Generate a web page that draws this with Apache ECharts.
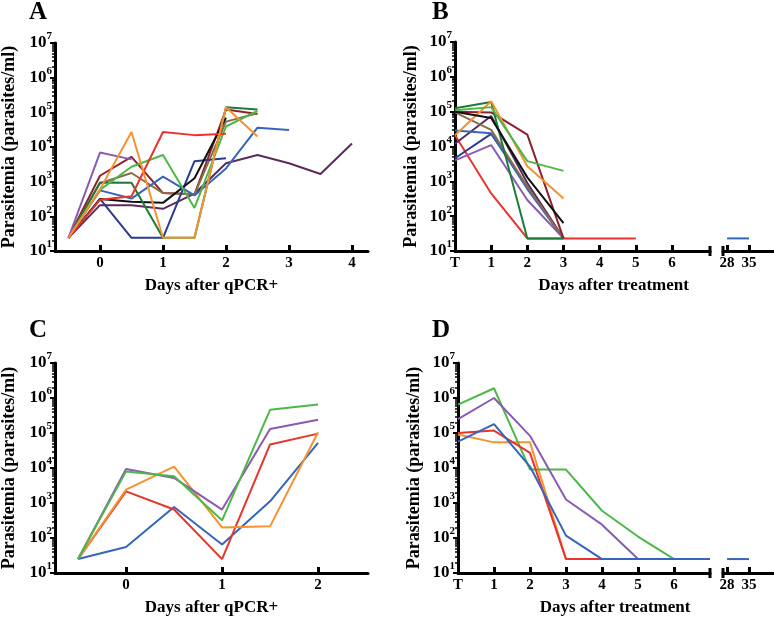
<!DOCTYPE html>
<html>
<head>
<meta charset="utf-8">
<script src="https://cdn.jsdelivr.net/npm/echarts@6/dist/echarts.min.js"></script>
<style>html,body{margin:0;padding:0;background:#fff}#c{width:774px;height:620px}</style>
</head>
<body>
<div id="c"></div>
<script>
// ---------- Data ----------
const majorTicks = [10, 100, 1000, 10000, 100000, 1000000, 10000000];
const tickDaysA = [0, 1, 2, 3, 4];
const tickDaysC = [0, 1, 2];
const tickDaysBD = [0, 1, 2, 3, 4, 5, 6];
const tickDaysLate = [28, 35];

// Panel A
const daysA = [-0.5, 0, 0.5, 1, 1.5, 2, 2.5, 3, 3.5, 4];
const redA        = [24, 300, 380, 27000, 22000, 24000];
const orangeA     = [24, 600, 27000, 24, 24, 140000, 20000];
const purpleA     = [24, 6900, 4400];
const maroonA     = [24, 1480, 5200, 470, 430, 120000, 90000];
const oliveA      = [24, 900, 1780, 470, 430, 54000, 94000];
const darkGreenA  = [24, 950, 930, 24, 24, 140000, 120000];
const greenA      = [24, 580, 2700, 5900, 175, 39000, 110000];
const blueA       = [24, 560, 325, 1400, 400, 2400, 36000, 31000];
const navyA       = [24, 320, 24, 24, 3900, 4700];
const blackA      = [24, 316, 265, 245, 1260, 70000];
const darkPurpleA = [24, 210, 210, 165, 450, 3400, 5900, 3400, 1660, 12600];

// Panel B
const daysB = [0, 1, 2, 3, 4, 5];
const darkGreenB  = [126000, 190000, 23, 23];
const greenB      = [110000, 135000, 3800, 2000];
const orangeB     = [21000, 200000, 2700, 320];
const maroonB     = [100000, 95000, 22000, 23];
const blackB      = [100000, 66000, 1300, 63];
const oliveB      = [95000, 30000, 700, 23];
const blueB       = [29000, 24000, 600, 23];
const navyB       = [4600, 23000, 700, 23];
const purpleB     = [4000, 11000, 290, 23];
const darkPurpleB = [12000, 75000, 900, 23];
const redB        = [21000, 450, 23, 23, 23, 23];
const daysLateB = [28, 35];
const blueLateB = [23, 23];

// Panel C
const daysC = [-0.5, 0, 0.5, 1, 1.5, 2];
const greenC  = [25, 8000, 5800, 320, 460000, 650000];
const purpleC = [25, 9400, 5200, 650, 130000, 240000];
const orangeC = [25, 2400, 11000, 200, 215, 105000];
const redC    = [25, 2150, 650, 25, 47000, 96000];
const blueC   = [25, 55, 770, 65, 1120, 52000];

// Panel D
const daysD = [0, 1, 2, 3, 4, 5, 6, 7];
const greenD  = [650000, 1900000, 9000, 9000, 600, 110, 25, 25];
const purpleD = [250000, 1000000, 83000, 1260, 240, 25];
const orangeD = [90000, 54000, 54000, 25];
const redD    = [100000, 117000, 27000, 25, 25];
const blueD   = [57000, 180000, 11000, 117, 25, 25, 25, 25];
const daysLateD = [28, 35];
const blueLateD = [25, 25];

// ---------- Styling ----------
const FONT = '"Liberation Serif", "Times New Roman", serif';
const C = {
  red: '#e8342c', orange: '#f5922f', purple: '#8a5ab4', maroon: '#8c2230',
  olive: '#8b6d45', darkGreen: '#1f7a3a', green: '#4db848', blue: '#3565bd',
  navy: '#2d3a8e', black: '#111111', darkPurple: '#5c2b5d'
};

const minorTicks = [];
for (let e = 1; e < 7; e++) for (let m = 2; m <= 9; m++) minorTicks.push(m * Math.pow(10, e));

// layout
const L = {
  A: {left: 55, top: 43, width: 313, height: 208, xmin: -0.714, xmax: 4.254},
  B: {left: 455, top: 42, width: 255, height: 209, xmin: 0, xmax: 7.05},
  B2: {left: 723, top: 42, width: 51, height: 209, xmin: 26.7, xmax: 43},
  C: {left: 55, top: 363, width: 313, height: 210, xmin: -0.74, xmax: 2.52},
  D: {left: 458, top: 363, width: 252, height: 210, xmin: 0, xmax: 7.0},
  D2: {left: 723, top: 363, width: 51, height: 210, xmin: 26.7, xmax: 43}
};

function pairs(days, vals) {
  const out = [];
  vals.forEach((v, i) => { if (v != null) out.push([days[i], v]); });
  return out;
}

const grids = [];
const xAxes = [];
const yAxes = [];
const series = [];

const labelStyle = {fontFamily: FONT, fontWeight: 'bold', fontSize: 15, color: '#000'};

function addPanel(key, opts) {
  const g = L[key];
  const gi = grids.length;
  grids.push({left: g.left, top: g.top, width: g.width, height: g.height, containLabel: false, outerBoundsMode: 'none'});
  const xa = {
    type: 'value', gridIndex: gi, min: g.xmin, max: g.xmax,
    axisLine: {show: true, onZero: false, lineStyle: {color: '#000', width: 3}},
    axisTick: {show: true, inside: true, length: 6, lineStyle: {color: '#000', width: 3}, customValues: opts.ticks},
    axisLabel: Object.assign({customValues: opts.labels || opts.ticks, margin: 5, hideOverlap: false,
      formatter: opts.xfmt || (v => String(v))}, labelStyle),
    splitLine: {show: false}
  };
  if (opts.xname) {
    xa.name = opts.xname; xa.nameLocation = 'middle'; xa.nameGap = opts.xnameGap || 25;
    xa.nameTextStyle = {fontFamily: FONT, fontWeight: 'bold', fontSize: 17, color: '#000', padding: opts.xnamePad || 0};
  }
  xAxes.push(xa);
  const xi = xAxes.length - 1;
  const yi = yAxes.length;
  if (opts.showY) {
    yAxes.push({
      type: 'log', logBase: 10, gridIndex: gi, min: 10, max: 1e7, position: 'left',
      axisLine: {show: true, onZero: false, lineStyle: {color: '#000', width: 3}},
      axisTick: {show: true, inside: false, length: 5, lineStyle: {color: '#000', width: 2}, customValues: majorTicks},
      axisLabel: {customValues: majorTicks, margin: 3, hideOverlap: false,
        formatter: v => '{a|10}{b|' + Math.round(Math.log10(v)) + '}',
        rich: {
          a: {fontFamily: FONT, fontWeight: 'bold', fontSize: 17, color: '#000', lineHeight: 24, verticalAlign: 'middle'},
          b: {fontFamily: FONT, fontWeight: 'bold', fontSize: 11, color: '#000', lineHeight: 13, verticalAlign: 'top'}
        }},
      splitLine: {show: false},
      name: 'Parasitemia (parasites/ml)', nameLocation: 'middle', nameGap: opts.ynameGap || 36,
      nameTextStyle: {fontFamily: FONT, fontWeight: 'bold', fontSize: 18, color: '#000'}
    });
    yAxes.push({
      type: 'log', logBase: 10, gridIndex: gi, min: 10, max: 1e7, position: 'left',
      axisLine: {show: false, onZero: false},
      axisTick: {show: true, inside: false, length: 3, lineStyle: {color: '#000', width: 1.5}, customValues: minorTicks},
      axisLabel: {show: false}, splitLine: {show: false}
    });
  } else {
    yAxes.push({type: 'log', logBase: 10, gridIndex: gi, min: 10, max: 1e7, show: false,
      axisLine: {onZero: false}, splitLine: {show: false}});
  }
  opts.lines.forEach(([name, color, days, vals]) => {
    series.push({
      type: 'line', name: name, xAxisIndex: xi, yAxisIndex: yi,
      data: pairs(days, vals), symbol: 'none', showSymbol: false,
      lineStyle: {color: color, width: 2}, itemStyle: {color: color},
      z: 3, silent: true
    });
  });
}

addPanel('A', {
  ticks: tickDaysA, showY: true, xname: 'Days after qPCR+', xnameGap: 26, ynameGap: 37,
  lines: [
    ['A dark purple', C.darkPurple, daysA, darkPurpleA],
    ['A maroon', C.maroon, daysA, maroonA],
    ['A olive', C.olive, daysA, oliveA],
    ['A navy', C.navy, daysA, navyA],
    ['A black', C.black, daysA, blackA],
    ['A blue', C.blue, daysA, blueA],
    ['A dark green', C.darkGreen, daysA, darkGreenA],
    ['A green', C.green, daysA, greenA],
    ['A purple', C.purple, daysA, purpleA],
    ['A red', C.red, daysA, redA],
    ['A orange', C.orange, daysA, orangeA]
  ]
});

addPanel('B', {
  ticks: tickDaysBD, showY: true, xname: 'Days after treatment', xnameGap: 26, xnamePad: [0, 0, 0, 62], ynameGap: 35,
  xfmt: v => (v === 0 ? 'T' : String(v)),
  lines: [
    ['B red', C.red, daysB, redB],
    ['B dark purple', C.darkPurple, daysB, darkPurpleB],
    ['B purple', C.purple, daysB, purpleB],
    ['B navy', C.navy, daysB, navyB],
    ['B blue', C.blue, daysB, blueB],
    ['B olive', C.olive, daysB, oliveB],
    ['B maroon', C.maroon, daysB, maroonB],
    ['B dark green', C.darkGreen, daysB, darkGreenB],
    ['B orange', C.orange, daysB, orangeB],
    ['B green', C.green, daysB, greenB],
    ['B black', C.black, daysB, blackB]
  ]
});

addPanel('B2', {
  ticks: tickDaysLate, showY: false,
  lines: [['B blue late', C.blue, daysLateB, blueLateB]]
});

addPanel('C', {
  ticks: tickDaysC, showY: true, xname: 'Days after qPCR+', xnameGap: 26, ynameGap: 37,
  lines: [
    ['C blue', C.blue, daysC, blueC],
    ['C red', C.red, daysC, redC],
    ['C orange', C.orange, daysC, orangeC],
    ['C purple', C.purple, daysC, purpleC],
    ['C green', C.green, daysC, greenC]
  ]
});

addPanel('D', {
  ticks: tickDaysBD, showY: true, xname: 'Days after treatment', xnameGap: 26, xnamePad: [0, 0, 0, 62], ynameGap: 35,
  xfmt: v => (v === 0 ? 'T' : String(v)),
  lines: [
    ['D orange', C.orange, daysD, orangeD],
    ['D green', C.green, daysD, greenD],
    ['D purple', C.purple, daysD, purpleD],
    ['D red', C.red, daysD, redD],
    ['D blue', C.blue, daysD, blueD]
  ]
});

addPanel('D2', {
  ticks: tickDaysLate, showY: false,
  lines: [['D blue late', C.blue, daysLateD, blueLateD]]
});

// axis-break caps (decoration at grid edges)
function caps(g1, g2) {
  const y = g1.top + g1.height;
  return [g1.left + g1.width, g2.left].map(x => ({
    type: 'line', silent: true,
    shape: {x1: x, y1: y - 5, x2: x, y2: y + 5},
    style: {stroke: '#000', lineWidth: 3}
  }));
}

const titleStyle = {fontFamily: FONT, fontWeight: 'bold', fontSize: 25, color: '#000'};
const option = {
  animation: false,
  backgroundColor: '#fff',
  title: [
    {text: 'A', left: 29, top: 0, padding: 0, textStyle: titleStyle},
    {text: 'B', left: 432, top: 0, padding: 0, textStyle: titleStyle},
    {text: 'C', left: 29, top: 318, padding: 0, textStyle: titleStyle},
    {text: 'D', left: 432, top: 318, padding: 0, textStyle: titleStyle}
  ],
  grid: grids,
  xAxis: xAxes,
  yAxis: yAxes,
  series: series,
  graphic: caps(L.B, L.B2).concat(caps(L.D, L.D2))
};

const chart = echarts.init(document.getElementById('c'), null, {renderer: 'canvas'});
chart.setOption(option);
</script>
</body>
</html>
